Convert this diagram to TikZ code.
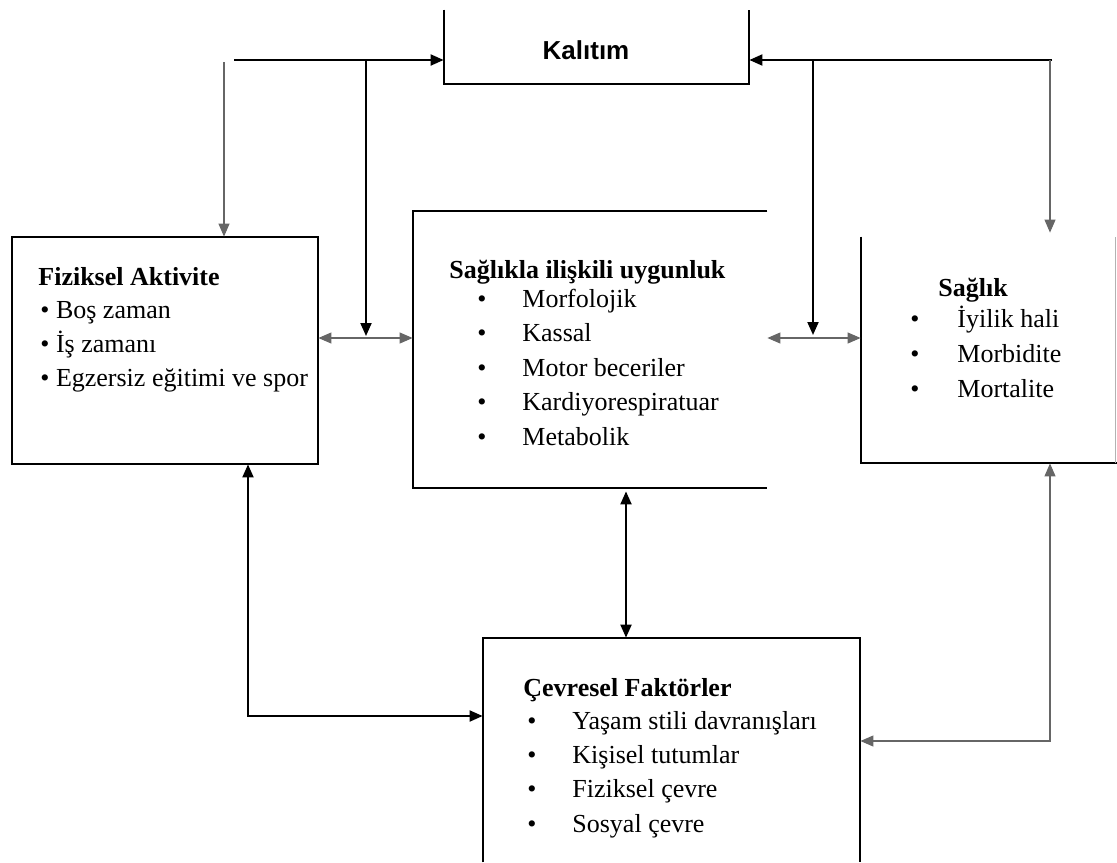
\documentclass[tikz,border=0pt]{standalone}
\usepackage{fontspec}
\setmainfont{Liberation Serif}
\newfontfamily\kalfont{Liberation Sans}
\usetikzlibrary{calc,fit,arrows.meta}
\newcommand{\boxline}{1pt}
\newcommand{\thinline}{0.55pt}
\newcommand{\boxfont}{\fontsize{13pt}{15pt}\selectfont}

\begin{document}
\begin{tikzpicture}[x=0.5pt,y=-0.5pt,
    >={Triangle[length=6.5pt,width=5.5pt]},
    side/.style={line width=\boxline},
    link/.style={line width=\boxline,->},
    faint/.style={line width=\thinline,black!60},
    head/.style={font=\boxfont\bfseries,anchor=base west,inner sep=0},
    entry/.style={font=\boxfont,anchor=base west,inner sep=0}]
\useasboundingbox (0,0) rectangle (1117,862);

    %Kalitim
    \coordinate (kalA) at (444,10);
    \coordinate (kalB) at (749,84);
    \node[fit=(kalA)(kalB),inner sep=0] (kal) {};
    \draw[side] (kal.north west) |- (kal.south east) -- (kal.north east);
    \node[font=\kalfont\bfseries\fontsize{13pt}{15pt}\selectfont] (kalh) at (586,50) {Kalıtım};

    %Fiziksel Aktivite
    \coordinate (fizA) at (12,237);
    \coordinate (fizB) at (318,464);
    \node[fit=(fizA)(fizB),inner sep=0] (fiz) {};
    \draw[side] (fiz.north west) rectangle (fiz.south east);
    \node[head] (fizh) at (38,285) {Fiziksel Aktivite};
    \foreach \t [count=\i] in {Boş zaman, İş zamanı, Egzersiz eğitimi ve spor} {
        \node[entry] (fiz\i) at (40,284+34.3*\i) {\textbullet{} \t};
    }

    %Saglikla iliskili uygunluk
    \coordinate (sagA) at (413,211);
    \coordinate (sagB) at (767,488);
    \node[fit=(sagA)(sagB),inner sep=0] (sag) {};
    \draw[side] (sag.north east) -- (sag.north west) -- (sag.south west) -- (sag.south east);
    \node[head] (sagh) at (449,278) {Sağlıkla ilişkili uygunluk};
    \foreach \t [count=\i] in {Morfolojik, Kassal, Motor beceriler, Kardiyorespiratuar, Metabolik} {
        \node[entry] (sagb\i) at (477,272.5+34.5*\i) {\textbullet};
        \node[entry] (sag\i) at (522,272.5+34.5*\i) {\t};
    }

    %Saglik
    \coordinate (slkA) at (861,237);
    \coordinate (slkB) at (1115,463);
    \node[fit=(slkA)(slkB),inner sep=0] (slk) {};
    \draw[side] (slk.north west) |- (1117,463);
    \draw[faint,black!30] (slk.south east) -- (slk.north east);
    \node[head] (slkh) at (938,296) {Sağlık};
    \foreach \t [count=\i] in {İyilik hali, Morbidite, Mortalite} {
        \node[entry] (slkb\i) at (910,292+35*\i) {\textbullet};
        \node[entry] (slk\i) at (957,292+35*\i) {\t};
    }

    %Cevresel Faktorler
    \coordinate (cevA) at (483,638);
    \coordinate (cevB) at (860,862);
    \node[fit=(cevA)(cevB),inner sep=0] (cev) {};
    \draw[side] (cev.south west) |- (cev.north east) -- (cev.south east);
    \node[head] (cevh) at (523,696) {Çevresel Faktörler};
    \foreach \t [count=\i] in {Yaşam stili davranışları, Kişisel tutumlar, Fiziksel çevre, Sosyal çevre} {
        \node[entry] (cevb\i) at (527,695+34.3*\i) {\textbullet};
        \node[entry] (cev\i) at (572,695+34.3*\i) {\t};
    }

    %Links to Kalitim
    \coordinate (tl) at (234,60);
    \coordinate (tlv) at (224,62);
    \coordinate (tr) at (1052,60);
    \coordinate (trv) at (1050,60);
    \draw[link] (tl) -- (tl -| kal.west);
    \draw[link] (tr) -- (tr -| kal.east);
    \draw[faint,->] (tlv) -- (tlv |- fiz.north);
    \draw[faint,->] (trv) -- ($(trv |- slk.north)+(0,-4)$);

    %Middle links
    \coordinate (ml) at (0,338);
    \coordinate (lv) at (366,60);
    \coordinate (rv) at (813,60);
    \draw[faint,<->] (fiz.east |- ml) -- (sag.west |- ml);
    \draw[faint,<->] (sag.east |- ml) -- (slk.west |- ml);
    \draw[link] (lv) -- ($(lv |- ml)+(0,-2)$);
    \draw[link] (rv) -- ($(rv |- ml)+(0,-3)$);

    %Links to Cevresel Faktorler
    \coordinate (bm) at (626,0);
    \coordinate (bl) at (248,716);
    \coordinate (br) at (1050,741);
    \draw[link,<->] ($(bm |- sag.south)+(0,3)$) -- (bm |- cev.north);
    \draw[link,<->] (bl |- fiz.south) -- (bl) -- (bl -| cev.west);
    \draw[faint,<->] (br |- slk.south) -- (br) -- (br -| cev.east);
\end{tikzpicture}
\end{document}
